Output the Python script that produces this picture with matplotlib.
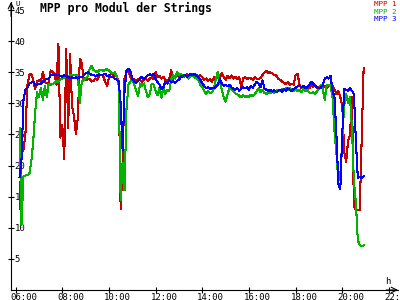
import numpy as np
import pandas as pd
import matplotlib
matplotlib.use("Agg")
import matplotlib.pyplot as plt
from matplotlib.transforms import ScaledTranslation

# Messzeitpunkte: alle 5 Minuten von 06:10 bis 20:55
start_time = "06:10"
end_time = "20:55"
step = "5min"

# MPP-Spannung pro Modul [V], je Zeile eine Stunde
mpp1 = [
    13.0, 22.0, 22.5, 25.0, 32.8, 34.5, 34.8, 33.8, 32.3, 33.6,
    33.7, 33.6, 35.1, 33.5, 33.2, 33.3, 35.3, 35.0, 34.8, 33.0, 39.6, 24.5,
    26.5, 21.0, 38.8, 26.0, 38.0, 29.5, 28.0, 25.0, 27.8, 37.2, 36.5, 33.8,
    33.7, 33.9, 34.0, 33.5, 33.6, 34.0, 33.8, 34.5, 34.6, 34.4, 33.5, 32.8,
    34.2, 34.8, 34.6, 34.5, 34.3, 33.5, 13.0, 20.0, 34.0, 35.0, 35.2, 34.2,
    34.0, 33.8, 33.6, 33.9, 33.7, 33.5, 33.8, 33.9, 33.6, 34.0, 34.2, 33.9,
    35.1, 34.2, 34.4, 34.0, 34.3, 33.8, 33.6, 33.9, 35.3, 34.0, 34.4, 34.6,
    34.3, 34.5, 34.2, 34.4, 34.7, 34.6, 34.5, 34.8, 34.4, 34.6, 34.3, 34.5,
    34.2, 33.8, 34.0, 33.6, 33.9, 33.5, 34.2, 33.8, 34.5, 34.0, 34.9, 34.3,
    33.8, 34.4, 34.1, 34.5, 34.0, 34.3, 33.9, 34.2, 32.6, 34.0, 34.2, 33.9,
    34.1, 34.0, 33.8, 34.2, 34.0, 33.9, 34.1, 34.6, 35.0, 35.2, 34.9, 35.0,
    34.8, 34.6, 34.5, 34.0, 33.8, 33.5, 33.3, 33.1, 33.4, 33.0, 33.2, 33.0,
    34.5, 34.8, 33.0, 32.4, 32.7, 32.3, 32.6, 32.4, 32.9, 32.6, 33.0, 32.5,
    32.7, 32.4, 32.6, 32.8, 32.5, 32.7, 33.0, 32.8, 32.3, 31.5, 32.0, 31.0,
    29.7, 22.2, 20.6, 24.0, 25.0, 31.0, 13.5, 12.9, 12.9, 12.9, 24.0, 35.7,
]
mpp2 = [
    26.0, 10.5, 18.3, 18.4, 18.5, 18.6, 20.5, 23.8, 28.5, 31.8,
    31.0, 32.5, 30.6, 32.8, 31.0, 33.2, 33.0, 33.1, 33.3, 33.6, 33.5, 33.8,
    34.0, 34.2, 34.3, 34.4, 34.5, 34.6, 34.5, 34.6, 34.4, 30.0, 33.5, 33.8,
    34.0, 34.3, 35.5, 36.0, 35.4, 35.2, 35.0, 35.3, 35.4, 35.2, 35.4, 35.5,
    35.3, 35.0, 34.8, 35.0, 34.3, 33.0, 14.5, 20.5, 16.0, 29.0, 33.0, 33.5,
    34.0, 33.0, 32.0, 31.2, 33.2, 32.8, 33.2, 32.0, 31.0, 31.5, 33.2, 33.0,
    32.0, 31.3, 32.5, 30.9, 32.6, 31.5, 32.2, 32.0, 33.8, 34.5, 34.0, 35.0,
    34.6, 34.8, 34.2, 34.5, 34.4, 34.0, 34.3, 34.6, 34.2, 34.0, 33.8, 33.0,
    32.6, 32.0, 31.5, 32.0, 31.6, 31.8, 32.3, 34.0, 35.1, 33.5, 32.2, 31.0,
    30.3, 31.5, 32.5, 32.3, 31.9, 31.6, 31.5, 31.2, 31.0, 31.3, 31.0, 31.2,
    31.0, 31.4, 31.2, 31.5, 32.0, 32.4, 31.8, 32.2, 31.7, 31.5, 31.8, 31.6,
    31.9, 31.7, 32.0, 32.2, 32.0, 32.3, 32.1, 32.4, 32.2, 32.5, 32.3, 32.0,
    32.4, 32.0, 32.2, 31.8, 32.3, 32.0, 32.2, 31.8, 31.6, 31.8, 31.5, 31.9,
    32.4, 33.0, 32.3, 30.5, 33.0, 33.0, 32.8, 31.0, 25.5, 22.0, 17.5, 18.5,
    24.0, 29.7, 31.5, 30.0, 31.0, 26.0, 17.4, 14.0, 8.0, 7.2, 7.0, 7.2,
]
mpp3 = [
    18.2, 21.0, 30.5, 32.2, 32.5, 33.2, 33.3, 33.5, 33.0, 33.0,
    33.1, 33.2, 33.5, 33.8, 33.9, 34.0, 34.5, 34.6, 34.6, 34.5, 34.6, 34.4,
    34.3, 34.5, 34.4, 34.2, 34.1, 34.2, 34.0, 34.2, 34.0, 34.3, 34.2, 34.5,
    34.8, 35.0, 34.8, 34.6, 34.6, 34.4, 34.5, 34.7, 34.5, 34.6, 34.8, 34.4,
    34.5, 34.3, 34.2, 34.0, 33.8, 33.5, 30.0, 22.5, 32.0, 35.2, 35.6, 35.2,
    34.0, 33.5, 33.3, 33.6, 34.0, 34.3, 33.9, 34.2, 34.5, 34.7, 34.5, 34.8,
    34.0, 33.4, 33.0, 32.3, 32.6, 33.5, 33.2, 33.7, 33.4, 33.6, 33.3, 33.6,
    33.8, 34.2, 34.4, 34.6, 34.3, 34.5, 34.7, 34.5, 34.8, 34.4, 34.2, 33.8,
    33.2, 32.8, 32.4, 32.6, 32.3, 32.5, 32.4, 32.7, 33.0, 34.0, 33.2, 32.8,
    33.0, 32.8, 33.0, 32.6, 32.3, 32.2, 32.5, 32.0, 32.4, 32.6, 32.4, 32.6,
    32.2, 32.8, 32.5, 33.0, 33.5, 33.2, 32.6, 33.7, 32.4, 32.2, 32.0, 32.2,
    31.9, 32.1, 31.8, 32.0, 32.2, 31.9, 32.3, 32.0, 32.4, 32.2, 32.0, 32.3,
    32.5, 32.7, 32.9, 32.6, 32.8, 32.5, 32.7, 33.0, 33.5, 33.2, 32.8, 32.6,
    32.4, 32.5, 33.0, 34.0, 34.2, 34.0, 34.4, 32.0, 31.0, 25.0, 17.0, 16.2,
    25.0, 32.4, 32.2, 32.0, 32.4, 32.0, 31.5, 24.0, 18.0, 18.2, 18.0, 18.3,
]

series_names = ["MPP 1", "MPP 2", "MPP 3"]
series_colors = ["#c80000", "#00b400", "#0000ff"]

xtick_hours = [6, 8, 10, 12, 14, 16, 18, 20, 22]
xtick_labels = ["06:00", "08:00", "10:00", "12:00", "14:00", "16:00", "18:00", "20:00", "22:00"]
ytick_vals = [5, 10, 15, 20, 25, 30, 35, 40, 45]

t = pd.date_range("2000-01-01 " + start_time, "2000-01-01 " + end_time, freq=step)
hours = t.hour + t.minute / 60.0

mono = "DejaVu Sans Mono"
fig = plt.figure(figsize=(4, 3), dpi=100)
ax = fig.add_axes([11 / 400, 10 / 300, 387 / 400, 288 / 300])

for vals, name, col in zip([mpp1, mpp2, mpp3], series_names, series_colors):
    ax.plot(hours, vals, color=col, lw=0.75, antialiased=False)

ax.set_xlim(5.8, 22.39)
ax.set_ylim(0, 46.3)

for s in ["top", "right"]:
    ax.spines[s].set_visible(False)
for s in ["left", "bottom"]:
    ax.spines[s].set_linewidth(0.8)

ax.set_xticks(xtick_hours)
ax.set_xticklabels([])
ax.set_yticks(ytick_vals)
ax.set_yticklabels([str(v) for v in ytick_vals], fontsize=6.5, family=mono, ha="left")
ax.tick_params(direction="inout", length=4.5, width=0.8)
ax.tick_params(axis="y", pad=-4.8)

off = ScaledTranslation(-5 / 100, -2.5 / 100, fig.dpi_scale_trans)
for h, lbl in zip(xtick_hours, xtick_labels):
    ax.text(h, 0, lbl, transform=ax.get_xaxis_transform() + off,
            ha="left", va="top", fontsize=6.5, family=mono, clip_on=False)

# Pfeile an den Achsenenden
ax.annotate("", xy=(0, 1.0), xycoords="axes fraction", xytext=(0, 0.95),
            arrowprops=dict(arrowstyle="->", lw=0.8, color="k", shrinkA=0, shrinkB=0))
ax.annotate("", xy=(1.0, 0), xycoords="axes fraction", xytext=(0.97, 0),
            arrowprops=dict(arrowstyle="->", lw=0.8, color="k", shrinkA=0, shrinkB=0))

fig.text(15 / 400, 1 - 0.5 / 300, "U", fontsize=5, family=mono, va="top")
fig.text(385 / 400, 1 - 277 / 300, "h", fontsize=6.5, family=mono, va="top")

fig.text(40 / 400, 1 - 2 / 300, "MPP pro Modul der Strings", fontsize=8.3,
         fontweight="bold", family=mono, va="top")

for i, (name, col) in enumerate(zip(series_names, series_colors)):
    fig.text(396 / 400, 1 - (1.5 + 7.4 * i) / 300, name, color=col, fontsize=5.4,
             family=mono, ha="right", va="top")

fig.savefig("out.png", dpi=100)
